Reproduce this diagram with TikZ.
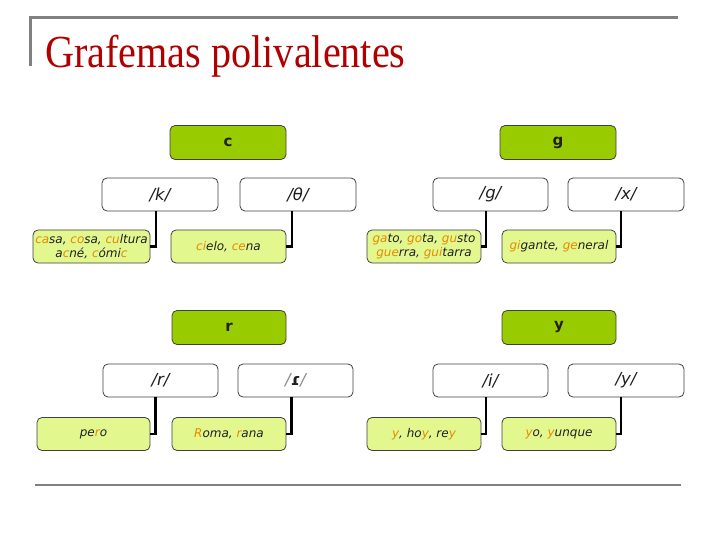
\documentclass[tikz,border=0pt]{standalone}
\usepackage{fontspec}
\setmainfont{DejaVu Sans}
\newfontfamily\titlefont{Liberation Serif}
\definecolor{darkgr}{HTML}{99CC00}
\definecolor{lightgr}{HTML}{E2F78E}
\definecolor{hlc}{HTML}{E68A00}
\definecolor{txt}{HTML}{202020}
\definecolor{titlered}{HTML}{B00000}
\definecolor{framegray}{HTML}{808080}
\newcommand\hl[1]{\textcolor{hlc}{#1}}
\begin{document}
\begin{tikzpicture}[x=1pt,y=-1pt,
  box/.style={draw=black!75, line width=0.8pt, rounded corners=5pt, inner sep=0pt, minimum width=116pt, text=txt, align=center},
  grapheme/.style={box, fill=darkgr, minimum height=34pt, font=\fontsize{15}{17}\selectfont\bfseries},
  phon/.style={box, fill=white, minimum height=33pt, font=\fontsize{16.5}{18}\selectfont\itshape},
  words/.style={box, fill=lightgr, minimum height=33pt, font=\fontsize{12}{14}\selectfont\itshape},
  conn/.style={draw=black, line width=2.6pt}]
\useasboundingbox (0,0) rectangle (720,540);
% frame
\draw[framegray, line width=3pt] (30,66) -- (30,18) -- (678,18);
\draw[framegray, line width=2pt] (35,485) -- (681,485);
\node[anchor=base west, inner sep=0pt, text=titlered, font=\titlefont\fontsize{41}{45}\selectfont] (title) at (45,68) {\scalebox{0.98}[1.12]{Grafemas polivalentes}};
% c group
\node[grapheme] (c) at (228,142.5) {c};
\node[phon] (k) at (160,194.5) {/k/};
\node[phon] (th) at (298,194.5) {/θ/};
\node[words, minimum width=117pt] (casa) at (91.5,246.5) {\hl{ca}sa, \hl{co}sa, \hl{cu}ltura\\a\hl{c}né, \hl{c}ómi\hl{c}};
\node[words, minimum width=115pt] (cielo) at (228.5,246.5) {\hl{ci}elo, \hl{ce}na};
% g group
\node[grapheme] (g) at (558,142.5) {g};
\node[phon, minimum width=115pt] (gph) at (490.5,194.5) {/g/};
\node[phon] (xph) at (626,194.5) {/x/};
\node[words, minimum width=114pt] (gato) at (424,246.5) {\hl{ga}to, \hl{go}ta, \hl{gu}sto\\\hl{gue}rra, \hl{gui}tarra};
\node[words, minimum width=114pt] (gigante) at (559,246.5) {\hl{gi}gante, \hl{ge}neral};
% r group
\node[grapheme, minimum width=114pt] (r) at (229,327.5) {r};
\node[phon, minimum width=115pt] (rph) at (160.5,380.5) {/r/};
\node[phon, minimum width=115pt] (rrph) at (295.5,380.5) {\textcolor{black!45}{/}\textbf{\textup{ɾ}}\textcolor{black!45}{/}};
\node[words, minimum width=113pt] (pero) at (93.5,434) {pe\hl{r}o};
\node[words, minimum width=114pt] (roma) at (229,434) {\hl{R}oma, \hl{r}ana};
% y group
\node[grapheme, minimum width=114pt] (y) at (559,327.5) {y};
\node[phon, minimum width=115pt] (iph) at (490.5,380.5) {/i/};
\node[phon] (yph) at (626,380.5) {/y/};
\node[words, minimum width=114pt] (hoy) at (424,434) {\hl{y}, ho\hl{y}, re\hl{y}};
\node[words, minimum width=114pt] (yo) at (559,434) {\hl{y}o, \hl{y}unque};
% connectors
\draw[conn] ([xshift=-4pt]k.south) |- (casa.east);
\draw[conn] ([xshift=-6pt]th.south) |- (cielo.east);
\draw[conn] ([xshift=-4.5pt]gph.south) |- (gato.east);
\draw[conn] ([xshift=-5pt]xph.south) |- (gigante.east);
\draw[conn] ([xshift=-5pt]rph.south) |- (pero.east);
\draw[conn] ([xshift=-4pt]rrph.south) |- (roma.east);
\draw[conn] ([xshift=-4.5pt]iph.south) |- (hoy.east);
\draw[conn] ([xshift=-5pt]yph.south) |- (yo.east);
\end{tikzpicture}
\end{document}
